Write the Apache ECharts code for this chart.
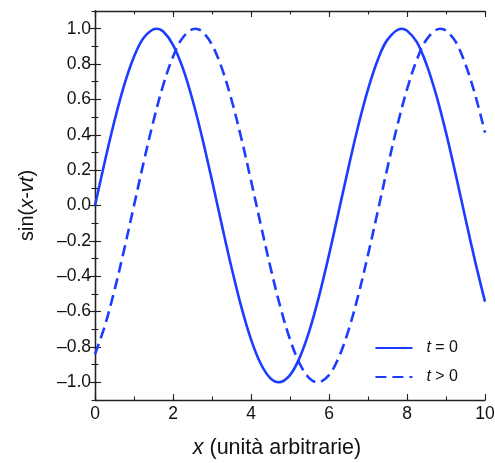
<!DOCTYPE html>
<html>
<head>
<meta charset="utf-8">
<script src="https://cdn.jsdelivr.net/npm/echarts@6/dist/echarts.min.js"></script>
<style>
html,body{margin:0;padding:0;background:#fff;}
#chart{width:495px;height:463px;}
</style>
</head>
<body>
<div id="chart"></div>
<script>
// t = 0 (solid): x positions and values
const xT0 = [0,0.25,0.5,0.75,1,1.25,1.571,1.75,2,2.25,2.5,2.75,3,3.25,3.5,3.75,4,4.25,4.5,4.712,5,5.25,5.5,5.75,6,6.25,6.5,6.75,7,7.25,7.5,7.854,8,8.25,8.5,8.75,9,9.25,9.5,9.75,10];
const yT0 = [0,0.247,0.479,0.682,0.841,0.949,1.0,0.984,0.909,0.778,0.598,0.382,0.141,-0.108,-0.351,-0.572,-0.757,-0.895,-0.978,-1.0,-0.959,-0.859,-0.706,-0.508,-0.279,-0.033,0.215,0.451,0.657,0.823,0.938,1.0,0.989,0.925,0.798,0.624,0.412,0.174,-0.075,-0.319,-0.544];
// t > 0 (dashed): x positions and values
const xT1 = [0,0.25,0.5,0.75,1,1.25,1.5,1.75,2,2.25,2.571,2.75,3,3.25,3.5,3.75,4,4.25,4.5,4.75,5,5.25,5.5,5.712,6,6.25,6.5,6.75,7,7.25,7.5,7.75,8,8.25,8.5,8.854,9,9.25,9.5,9.75,10];
const yT1 = [-0.841,-0.682,-0.479,-0.247,0,0.247,0.479,0.682,0.841,0.949,1.0,0.984,0.909,0.778,0.598,0.382,0.141,-0.108,-0.351,-0.572,-0.757,-0.895,-0.978,-1.0,-0.959,-0.859,-0.706,-0.508,-0.279,-0.033,0.215,0.451,0.657,0.823,0.938,1.0,0.989,0.925,0.798,0.624,0.412];
const yMajorTicks = [-1.0,-0.8,-0.6,-0.4,-0.2,0.0,0.2,0.4,0.6,0.8,1.0];
const seriesNames = ['t0','t1'];

const blue = '#1c3cff';
const frame = '#222222';
const font = '"Liberation Sans", Arial, Helvetica, sans-serif';

function fmtY(v){
  const k = Math.round(v*10);
  if (k % 2 !== 0) return '';
  const s = (Math.abs(k)/10).toFixed(1);
  return (k < 0 ? '\u2013' : '') + s;
}

const baseY = {
  type:'value', min:-1.1, max:1.1, interval:0.1,
  splitLine:{show:false},
  axisLine:{show:true, lineStyle:{color:frame, width:1.3}},
  axisTick:{show:true, inside:true, length:3.5, lineStyle:{color:frame, width:1.1}},
};
const majorY = {
  type:'value', min:-1.1, max:1.1,
  splitLine:{show:false},
  axisLine:{show:false},
  axisLabel:{show:false},
  axisTick:{show:true, inside:true, length:6, customValues:yMajorTicks, lineStyle:{color:frame, width:1.1}},
};
const baseX = {
  type:'value', min:0, max:10, interval:1,
  splitLine:{show:false},
  axisLine:{show:true, onZero:false, lineStyle:{color:frame, width:1.3}},
  axisTick:{show:true, inside:true, length:3.5, lineStyle:{color:frame, width:1.1}},
};
const majorX = {
  type:'value', min:0, max:10, interval:2,
  splitLine:{show:false},
  axisLine:{show:false, onZero:false},
  axisLabel:{show:false},
  axisTick:{show:true, inside:true, length:6, lineStyle:{color:frame, width:1.1}},
};

const chart = echarts.init(document.getElementById('chart'));
chart.setOption({
  animation:false,
  backgroundColor:'#fff',
  grid:{left:95, right:10, top:11, bottom:63, containLabel:false, outerBoundsMode:'none'},
  legend:{
    right:32, bottom:73, orient:'vertical',
    itemWidth:37, itemHeight:14, itemGap:13,
    data:seriesNames,
    itemStyle:{opacity:0},
    formatter:function(n){ return n==='t0' ? '{i|t} = 0' : '{i|t} > 0'; },
    textStyle:{fontFamily:font, fontSize:16, color:'#111', padding:[0,0,0,9],
      rich:{i:{fontStyle:'italic', fontFamily:font, fontSize:16, color:'#111'}}}
  },
  xAxis:[
    Object.assign({}, baseX, {
      position:'bottom',
      name:'{i|x} (unità arbitrarie)', nameLocation:'middle', nameGap:37,
      nameTextStyle:{fontFamily:font, fontSize:21.5, color:'#111', padding:[0,26,0,0],
        rich:{i:{fontStyle:'italic', fontFamily:font, fontSize:21.5, color:'#111'}}},
      axisLabel:{show:true, margin:5, fontFamily:font, fontSize:17.5, color:'#111',
        formatter:function(v){ return (v % 2 === 0) ? String(v) : ''; }}
    }),
    Object.assign({}, majorX, {position:'bottom'}),
    Object.assign({}, baseX, {position:'top', axisLabel:{show:false}}),
    Object.assign({}, majorX, {position:'top'})
  ],
  yAxis:[
    Object.assign({}, baseY, {
      position:'left',
      name:'sin({i|x}-{i|vt})', nameLocation:'middle', nameGap:58, nameRotate:90,
      nameTextStyle:{fontFamily:font, fontSize:20, color:'#111',
        rich:{i:{fontStyle:'italic', fontFamily:font, fontSize:20, color:'#111'}}},
      axisLabel:{show:true, margin:4, fontFamily:font, fontSize:17.5, color:'#111', formatter:fmtY}
    }),
    Object.assign({}, majorY, {position:'left'}),
    Object.assign({}, baseY, {position:'right', axisLabel:{show:false}}),
    Object.assign({}, majorY, {position:'right'})
  ],
  series:[
    {
      name:seriesNames[0], type:'line', xAxisIndex:0, yAxisIndex:0,
      data:xT0.map((x,i)=>[x, yT0[i]]),
      smooth:0.35, symbol:'none', clip:true,
      lineStyle:{color:blue, width:2.6, type:'solid'},
      itemStyle:{color:blue}
    },
    {
      name:seriesNames[1], type:'line', xAxisIndex:0, yAxisIndex:0,
      data:xT1.map((x,i)=>[x, yT1[i]]),
      smooth:0.35, symbol:'none', clip:true,
      lineStyle:{color:blue, width:2.6, type:[11,6]},
      itemStyle:{color:blue}
    }
  ]
});
</script>
</body>
</html>
